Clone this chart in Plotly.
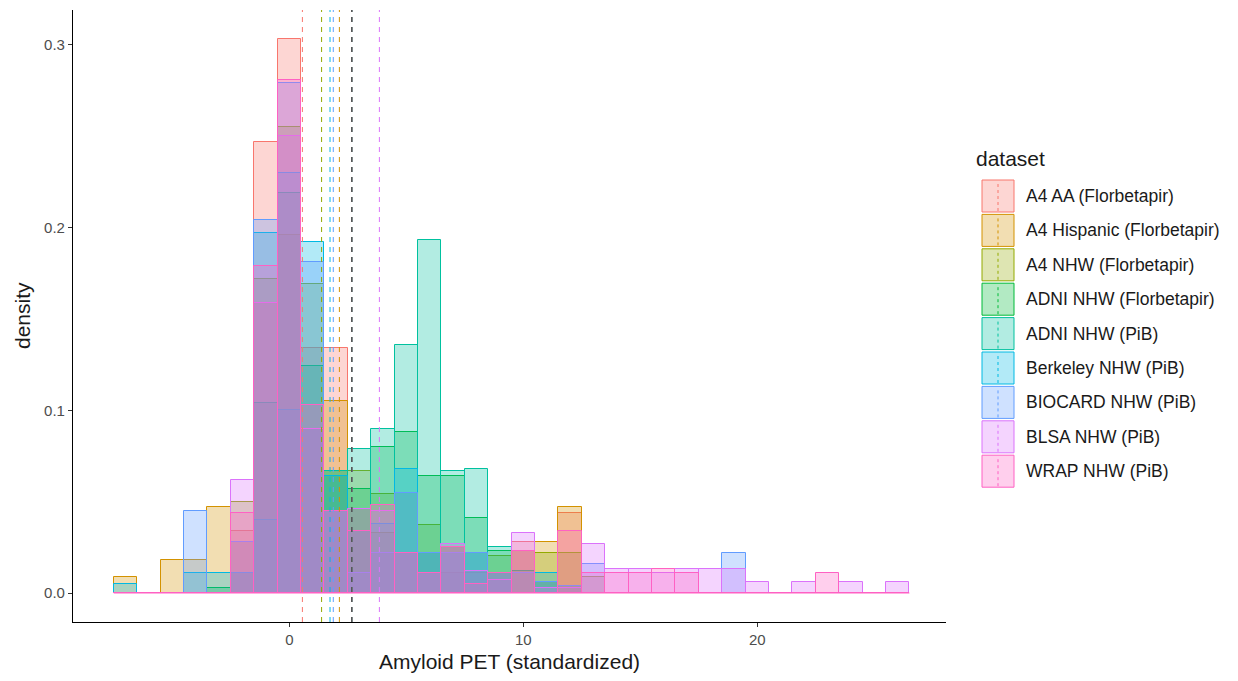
import plotly.graph_objects as go

# ---------------- data ----------------
bins = list(range(-7, 27))  # histogram bin centres (binwidth = 1)

datasets = ["A4 AA (Florbetapir)", "A4 Hispanic (Florbetapir)", "A4 NHW (Florbetapir)",
            "ADNI NHW (Florbetapir)", "ADNI NHW (PiB)", "Berkeley NHW (PiB)",
            "BIOCARD NHW (PiB)", "BLSA NHW (PiB)", "WRAP NHW (PiB)"]

#            -7  -6  -5     -4     -3     -2     -1     0      1      2      3      4      5      6      7      8      9      10     11     12     13     14     15     16     17     18     19     20    21  22     23     24    25  26
a4_aa     = [0,  0,  0,     0,     0,     0.034, 0.247, 0.303, 0.134, 0.134, 0.034, 0.022, 0.022, 0.011, 0.011, 0.011, 0.007, 0.028, 0.006, 0.044, 0,     0,     0,     0,     0,     0,     0,     0,    0,  0,     0,     0,    0,  0]
a4_hisp   = [0.009, 0, 0.018, 0.018, 0.047, 0.028, 0.159, 0.196, 0.090, 0.105, 0.046, 0.033, 0.022, 0.022, 0.025, 0.012, 0.011, 0.023, 0.028, 0.047, 0,     0,     0,     0,     0,     0,     0,     0,    0,  0,     0,     0,    0,  0]
a4_nhw    = [0,  0,  0,     0,     0,     0.050, 0.172, 0.255, 0.169, 0.064, 0.067, 0.054, 0.055, 0.037, 0.025, 0.022, 0.020, 0.023, 0.022, 0.022, 0.009, 0,     0,     0,     0,     0,     0,     0,    0,  0,     0,     0,    0,  0]
adni_flor = [0,  0,  0,     0,     0.003, 0.011, 0.104, 0.219, 0.124, 0.067, 0.057, 0.080, 0.088, 0.064, 0.064, 0.041, 0.023, 0.012, 0.006, 0.004, 0,     0,     0,     0,     0,     0,     0,     0,    0,  0,     0,     0,    0,  0]
adni_pib  = [0,  0,  0,     0,     0,     0,     0.040, 0.100, 0.090, 0.067, 0.079, 0.090, 0.136, 0.193, 0.067, 0.068, 0.025, 0,     0,     0,     0,     0,     0,     0,     0,     0,     0,     0,    0,  0,     0,     0,    0,  0]
berkeley  = [0.005, 0, 0,   0.011, 0.011, 0.011, 0.197, 0.230, 0.192, 0.064, 0.034, 0.038, 0.068, 0.022, 0.022, 0.022, 0.011, 0,     0.011, 0,     0,     0,     0,     0,     0,     0,     0,     0,    0,  0,     0,     0,    0,  0]
biocard   = [0,  0,  0,     0.045, 0,     0.028, 0.204, 0.279, 0.181, 0.045, 0.011, 0.022, 0.055, 0.022, 0.022, 0.022, 0.011, 0.011, 0.006, 0.004, 0.016, 0,     0,     0,     0,     0,     0.022, 0,    0,  0,     0,     0,    0,  0]
blsa      = [0,  0,  0,     0,     0,     0.062, 0.159, 0.250, 0.090, 0.045, 0.046, 0.045, 0.022, 0.011, 0.027, 0.012, 0.007, 0.033, 0.003, 0.003, 0.027, 0.013, 0.013, 0.011, 0.013, 0.013, 0.013, 0.006, 0,  0.006, 0,     0.006, 0,  0.006]
wrap      = [0,  0,  0,     0,     0,     0.044, 0.179, 0.281, 0.103, 0.045, 0.034, 0.048, 0.022, 0.011, 0.025, 0.005, 0.011, 0.023, 0,     0.034, 0.011, 0.011, 0.011, 0.013, 0.011, 0,     0,     0,    0,  0,     0.011, 0,    0,  0]

densities = [a4_aa, a4_hisp, a4_nhw, adni_flor, adni_pib, berkeley, biocard, blsa, wrap]

# dataset means (dashed vertical lines)
means = [0.56, 2.14, 1.38, 2.67, 2.67, 1.74, 1.88, 3.85, 2.67]
pooled_mean = 2.67

x_ticks = [0, 10, 20]
y_ticks = [0.0, 0.1, 0.2, 0.3]
y_tick_labels = ["0.0", "0.1", "0.2", "0.3"]

x_title = "Amyloid PET (standardized)"
y_title = "density"
legend_title = "dataset"

# ---------------- style ----------------
colors = ["#F8766D", "#D39200", "#93AA00", "#00BA38", "#00C19F",
          "#00B9E3", "#619CFF", "#DB72FB", "#FF61C3"]
ALPHA = 0.3
FONT = "Liberation Sans, Arial, sans-serif"

OFF = 8                       # default <body> margin of the written html page
PAGE_W, PAGE_H = 1238, 681
W, H = PAGE_W - 2 * OFF, PAGE_H - 2 * OFF
# panel box in page pixels
PL, PR, PT, PB = 73, 946, 10, 622
L, R, T, B = PL - OFF, PR - OFF, PT - OFF, PB - OFF


def rgba(hex_color, a):
    h = hex_color.lstrip("#")
    r, g, b = int(h[0:2], 16), int(h[2:4], 16), int(h[4:6], 16)
    return f"rgba({r},{g},{b},{a})"


def px2paper_x(page_px):
    return (page_px - PL) / (PR - PL)


def px2paper_y(page_py):
    return (PB - page_py) / (PB - PT)


fig = go.Figure()

for name, vals, col in zip(datasets, densities, colors):
    fig.add_trace(go.Bar(
        x=bins, y=vals, width=1, name=name,
        marker=dict(color=rgba(col, ALPHA), line=dict(color=col, width=1)),
        showlegend=False, hoverinfo="x+y+name",
    ))

# zero-height bins still draw a baseline in ggplot (last group on top)
fig.add_trace(go.Scatter(
    x=[bins[0] - 0.5, bins[-1] + 0.5], y=[0, 0], mode="lines",
    line=dict(color=colors[-1], width=1), showlegend=False, hoverinfo="skip"))

for m, col in zip(means, colors):
    fig.add_vline(x=m, line=dict(color=col, dash="5px,5px", width=1))
fig.add_vline(x=pooled_mean, line=dict(color="#555555", dash="5px,5px", width=1.5))

# ---------------- manual ggplot-style legend + axis titles ----------------
shapes = []
annotations = []
annotations.append(dict(text=legend_title, xref="paper", yref="paper",
                        x=px2paper_x(974), y=px2paper_y(158), xanchor="left", yanchor="middle",
                        showarrow=False, font=dict(family=FONT, size=21, color="#1a1a1a")))
key_left, key_right = 982, 1014
row_top0, row_step, key_h = 180, 34.4, 32
for i, (name, col) in enumerate(zip(datasets, colors)):
    top = row_top0 + i * row_step
    bot = top + key_h
    shapes.append(dict(type="rect", xref="paper", yref="paper",
                       x0=px2paper_x(key_left), x1=px2paper_x(key_right),
                       y0=px2paper_y(bot), y1=px2paper_y(top),
                       fillcolor=rgba(col, ALPHA), line=dict(color=col, width=1)))
    xm = px2paper_x((key_left + key_right) / 2)
    shapes.append(dict(type="line", xref="paper", yref="paper",
                       x0=xm, x1=xm, y0=px2paper_y(bot - 1), y1=px2paper_y(top + 1),
                       line=dict(color=col, width=1, dash="3px,3px")))
    annotations.append(dict(text=name, xref="paper", yref="paper",
                            x=px2paper_x(1024), y=px2paper_y((top + bot) / 2),
                            xanchor="left", yanchor="middle", showarrow=False,
                            font=dict(family=FONT, size=17.5, color="#1a1a1a")))

annotations.append(dict(text=x_title, xref="paper", yref="paper",
                        x=0.5, y=px2paper_y(661), xanchor="center", yanchor="middle",
                        showarrow=False, font=dict(family=FONT, size=21, color="#1a1a1a")))
annotations.append(dict(text=y_title, xref="paper", yref="paper",
                        x=px2paper_x(22), y=0.5, xanchor="center", yanchor="middle",
                        textangle=-90, showarrow=False,
                        font=dict(family=FONT, size=21, color="#1a1a1a")))

fig.update_layout(
    width=W, height=H,
    margin=dict(l=L, r=W - R, t=T, b=H - B, autoexpand=False),
    paper_bgcolor="white", plot_bgcolor="white",
    barmode="overlay", bargap=0,
    showlegend=False,
    font=dict(family=FONT),
    shapes=fig.layout.shapes + tuple(shapes),
    annotations=annotations,
)

fig.update_xaxes(
    range=[(PL - 289.3) / 23.4, (PR - 289.3) / 23.4],
    tickvals=x_ticks, ticktext=[str(t) for t in x_ticks],
    showgrid=False, zeroline=False, automargin=False,
    showline=True, linecolor="black", linewidth=1.1,
    ticks="outside", ticklen=4, tickcolor="#333333", tickwidth=1.1,
    tickfont=dict(family=FONT, size=15, color="#4d4d4d"),
)
fig.update_yaxes(
    range=[(593 - PB) / 1827, (593 - PT) / 1827],
    tickvals=y_ticks, ticktext=y_tick_labels,
    showgrid=False, zeroline=False, automargin=False,
    showline=True, linecolor="black", linewidth=1.1,
    ticks="outside", ticklen=4, tickcolor="#333333", tickwidth=1.1,
    tickfont=dict(family=FONT, size=15, color="#4d4d4d"),
)

fig.write_html("out.html")
